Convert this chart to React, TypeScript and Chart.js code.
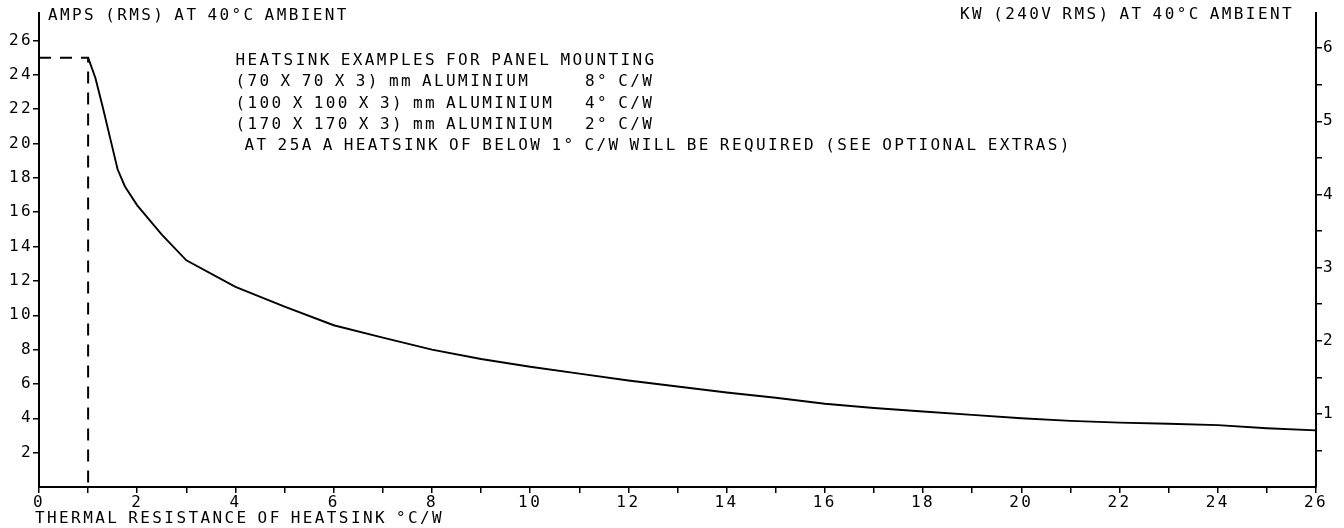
import { useEffect, useRef } from "react";
import { Chart, registerables } from "chart.js";

Chart.register(...registerables);

// Thermal resistance of heatsink (°C/W) vs permitted current (A rms)
const resistance = [1, 1.15, 1.3, 1.45, 1.6, 1.75, 2, 2.5, 3, 4, 5, 6, 7, 8, 9, 10, 11, 12, 13, 14, 15, 16, 17, 18, 19, 20, 21, 22, 23, 24, 25, 26];
const amps = [25, 23.8, 22.1, 20.3, 18.5, 17.5, 16.4, 14.7, 13.2, 11.65, 10.5, 9.42, 8.7, 8.0, 7.45, 7.0, 6.6, 6.2, 5.85, 5.5, 5.2, 4.85, 4.6, 4.4, 4.2, 4.0, 3.85, 3.75, 3.68, 3.6, 3.42, 3.3];

// dashed guide at 25 A / 1 °C/W
const guideX = [0, 1, 1];
const guideY = [25, 25, 0];

const xTicks = [0, 1, 2, 3, 4, 5, 6, 7, 8, 9, 10, 11, 12, 13, 14, 15, 16, 17, 18, 19, 20, 21, 22, 23, 24, 25, 26];
const ampTicks = [2, 4, 6, 8, 10, 12, 14, 16, 18, 20, 22, 24, 26];
const kwTicks = [0.5, 1, 1.5, 2, 2.5, 3, 3.5, 4, 4.5, 5, 5.5, 6];
const xMax = 26;
const ampMax = 27.6;
const kwMax = 6.48;

const leftTitle = "AMPS (RMS) AT 40°C AMBIENT";
const rightTitle = "KW (240V RMS) AT 40°C AMBIENT";
const xTitle = "THERMAL RESISTANCE OF HEATSINK °C/W";
const noteLines = [
  "HEATSINK EXAMPLES FOR PANEL MOUNTING",
  "(70 X 70 X 3) mm ALUMINIUM",
  "(100 X 100 X 3) mm ALUMINIUM",
  "(170 X 170 X 3) mm ALUMINIUM",
  " AT 25A A HEATSINK OF BELOW 1° C/W WILL BE REQUIRED (SEE OPTIONAL EXTRAS)",
];
const noteRatings = ["", "8° C/W", "4° C/W", "2° C/W", ""];

const FONT_FAMILY = "'DejaVu Sans Mono', 'Liberation Mono', monospace";
const SPACING = "2.4px";
const WORD_SPACING = "-3px";

const textPlugin = {
  id: "plotterText",
  beforeDraw(chart: any) {
    const ctx = chart.ctx as any;
    ctx.letterSpacing = SPACING;
    ctx.wordSpacing = "0px";
  },
  afterDraw(chart: any) {
    const ctx = chart.ctx as any;
    const xs = chart.scales.x;
    const ca = chart.chartArea;
    ctx.save();
    ctx.letterSpacing = SPACING;
    ctx.wordSpacing = WORD_SPACING;
    ctx.fillStyle = "#000";
    ctx.font = `16px ${FONT_FAMILY}`;
    ctx.textBaseline = "middle";
    ctx.textAlign = "left";
    ctx.fillText(leftTitle, ca.left + 9, 16);
    ctx.textAlign = "right";
    ctx.fillText(rightTitle, ca.right - 22, 15);
    ctx.textAlign = "left";
    ctx.fillText(xTitle, 35, 519);

    const noteX = xs.getPixelForValue(4);
    const w1 = ctx.measureText(noteLines[0]).width;
    const colX = noteX + 0.83 * w1;
    const top = ca.top + 48;
    const step = 21.3;
    noteLines.forEach((t, i) => {
      ctx.fillText(t, noteX, top + i * step);
      if (noteRatings[i]) ctx.fillText(noteRatings[i], colX, top + i * step);
    });
    ctx.restore();
  },
};

export default function App() {
  const ref = useRef<HTMLCanvasElement | null>(null);

  useEffect(() => {
    if (!ref.current) return;
    const curve = resistance.map((x, i) => ({ x, y: amps[i] }));
    const guide = guideX.map((x, i) => ({ x, y: guideY[i] }));
    const tickFont = { family: FONT_FAMILY, size: 16 };
    const gridOpts = { drawOnChartArea: false, drawTicks: true, tickLength: 6, color: "#000", lineWidth: 1.5 };
    const borderOpts = { display: true, color: "#000", width: 2 };

    const chart = new Chart(ref.current, {
      type: "line",
      data: {
        datasets: [
          {
            data: curve,
            borderColor: "#000",
            borderWidth: 1.9,
            pointRadius: 0,
            tension: 0,
            yAxisID: "y",
          },
          {
            data: guide,
            borderColor: "#000",
            borderWidth: 2,
            borderDash: [12, 9],
            pointRadius: 0,
            tension: 0,
            yAxisID: "y",
          },
        ],
      },
      options: {
        animation: false,
        responsive: true,
        maintainAspectRatio: false,
        devicePixelRatio: 1,
        layout: { padding: { top: 13, left: 0, right: 0, bottom: 0 } },
        plugins: {
          legend: { display: false },
          tooltip: { enabled: false },
          title: { display: false },
        },
        scales: {
          x: {
            type: "linear",
            min: 0,
            max: xMax,
            afterBuildTicks: (s: any) => {
              s.ticks = xTicks.map((v) => ({ value: v }));
            },
            afterFit: (s: any) => {
              s.height = 41;
            },
            ticks: {
              autoSkip: false,
              maxRotation: 0,
              color: "#000",
              font: tickFont,
              padding: 0,
              callback: (v: any) => (Number(v) % 2 === 0 ? String(v) : ""),
            },
            grid: gridOpts,
            border: borderOpts,
          },
          y: {
            type: "linear",
            position: "left",
            min: 0,
            max: ampMax,
            afterBuildTicks: (s: any) => {
              s.ticks = ampTicks.map((v) => ({ value: v }));
            },
            afterFit: (s: any) => {
              s.width = 39;
            },
            ticks: { autoSkip: false, color: "#000", font: tickFont, padding: 0 },
            grid: gridOpts,
            border: borderOpts,
          },
          y1: {
            type: "linear",
            position: "right",
            min: 0,
            max: kwMax,
            afterBuildTicks: (s: any) => {
              s.ticks = kwTicks.map((v) => ({ value: v }));
            },
            afterFit: (s: any) => {
              s.width = 28;
            },
            ticks: {
              autoSkip: false,
              color: "#000",
              font: tickFont,
              padding: 1,
              callback: (v: any) => (Number.isInteger(Number(v)) ? String(v) : ""),
            },
            grid: gridOpts,
            border: borderOpts,
          },
        },
      },
      plugins: [textPlugin],
    });
    return () => chart.destroy();
  }, []);

  return (
    <div style={{ position: "fixed", left: 0, top: 0, width: 1344, height: 528, background: "#fff" }}>
      <canvas ref={ref} />
    </div>
  );
}
